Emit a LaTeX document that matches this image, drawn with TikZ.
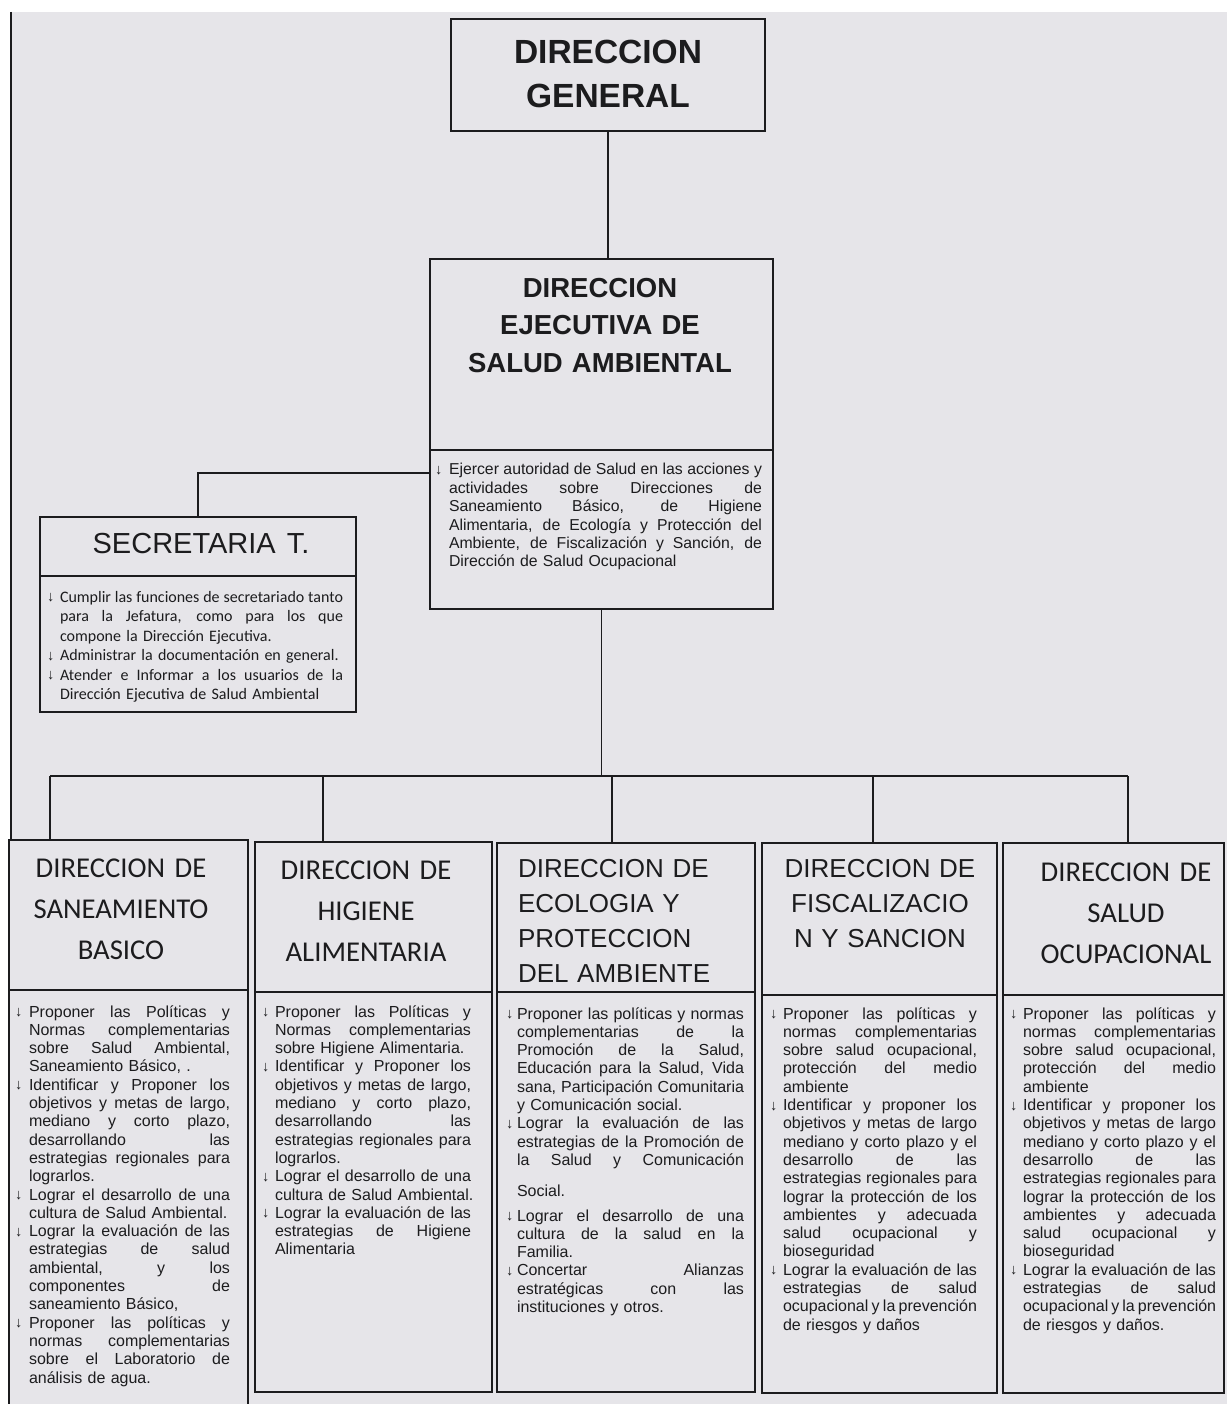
\documentclass[tikz,border=0pt]{standalone}
\usepackage{fontspec}
\setmainfont{Liberation Sans}
\newfontfamily\calf{Carlito}
\newfontfamily\arwf{Liberation Sans}
\definecolor{bg}{RGB}{230,229,233}
\definecolor{ink}{RGB}{28,28,30}
\newlength\bw
\newcommand\arw{\raisebox{0.5pt}{\arwf\fontsize{14.5}{14.5}\selectfont ↓}}
\newcommand\jsp{\spaceskip=.278em plus 1fil minus .09em\relax}
\newcommand\BJ[1]{\noindent\strut\makebox[\bw][l]{\arw}\makebox[\dimexpr\hsize-\bw\relax][s]{\jsp #1}\par}
\newcommand\BL[1]{\noindent\strut\makebox[\bw][l]{\arw}\makebox[\dimexpr\hsize-\bw\relax][l]{#1}\par}
\newcommand\CJ[1]{\noindent\strut\hspace*{\bw}\makebox[\dimexpr\hsize-\bw\relax][s]{\jsp #1}\par}
\newcommand\CL[1]{\noindent\strut\hspace*{\bw}\makebox[\dimexpr\hsize-\bw\relax][l]{#1}\par}
\newcommand\TC[1]{\noindent\strut\makebox[\hsize][c]{#1}\par}
\newcommand\TLl[1]{\noindent\strut\makebox[\hsize][l]{#1}\par}
\newcommand\bx[5]{\node[box, minimum width={(#4-#2)*1pt}, minimum height={(#5-#3)*1pt}] (#1) at ({(#2+#4)/2},{(#3+#5)/2}) {};}
\tikzset{
  box/.style={draw=ink, line width=2.2pt, fill=bg, rectangle, inner sep=0pt},
  conn/.style={draw=ink, line width=1.8pt},
  txt/.style={inner sep=0pt, outer sep=0pt, text=ink,
    execute at begin node={\setlength\parskip{0pt}\setlength\parindent{0pt}}},
  body/.style={txt, anchor=north west, font=\fontsize{16}{18.3}\selectfont},
  calt/.style={txt, font=\calf\fontsize{28.7}{41}\selectfont},
  arit/.style={txt, font=\fontsize{26}{35.2}\selectfont},
}
\begin{document}
\begin{tikzpicture}[x=1pt,y=-1pt]
\useasboundingbox (0,0) rectangle (1227,1404);
\fill[white] (0,0) rectangle (1227,1404);
\fill[bg] (11,12) rectangle (1227,1404);
\draw[ink, line width=1.2pt] (11,12) -- (11,1404);

% boxes
\bx{dg}{451}{19}{765}{131}
\bx{desa}{430}{259}{773}{609}
\bx{sec}{40}{517}{356}{712}
\bx{b1}{9}{840}{248}{1414}
\bx{b2}{255}{842}{492}{1392}
\bx{b3}{497}{843}{755}{1392}
\bx{b4}{762}{843}{997}{1393}
\bx{b5}{1003}{843}{1224}{1393}

% dividers
\draw[conn, line width=2.2pt] (430,450) -- (773,450);
\draw[conn, line width=2.2pt] (40,576) -- (356,576);
\draw[conn, line width=2.2pt] (9,990) -- (248,990);
\draw[conn, line width=2.2pt] (255,992) -- (492,992);
\draw[conn, line width=2.2pt] (497,992) -- (755,992);
\draw[conn, line width=2.2pt] (762,995) -- (997,995);
\draw[conn, line width=2.2pt] (1003,995) -- (1224,995);

% connectors
\coordinate (secj) at (430,473);
\coordinate (busL) at (50,776);
\coordinate (busR) at (1128,776);
\coordinate (d2) at (323,776);
\coordinate (d3) at (612,776);
\coordinate (d4) at (873,776);
\draw[conn] (dg.south) -- (dg.south |- desa.north);
\draw[conn] (secj) -| (sec.north);
\draw[conn] (desa.south) -- (desa.south |- busL);
\draw[conn] (busL) -- (busR);
\draw[conn] (busL) -- (busL |- b1.north);
\draw[conn] (d2) -- (d2 |- b2.north);
\draw[conn] (d3) -- (d3 |- b3.north);
\draw[conn] (d4) -- (d4 |- b4.north);
\draw[conn] (busR) -- (busR |- b5.north);

% titles
\node[txt, anchor=north, text width=300pt, font=\bfseries\fontsize{33.5}{44}\selectfont] (dgt) at (608,33.2) {\TC{DIRECCION}\TC{GENERAL}};
\node[txt, anchor=north, text width=330pt, font=\bfseries\fontsize{27.5}{37}\selectfont] (desat) at (600,272.1) {\TC{DIRECCION}\TC{EJECUTIVA DE}\TC{SALUD AMBIENTAL}};
\node[txt, anchor=north, text width=300pt, font=\fontsize{29}{35}\selectfont] (sect) at (201,528.5) {\TC{SECRETARIA\hspace{11pt}T.}};
\node[calt, anchor=north, text width=230pt] (b1t) at (121,848.3) {\TC{DIRECCION DE}\TC{SANEAMIENTO}\TC{BASICO}};
\node[calt, anchor=north, text width=230pt] (b2t) at (366,850.3) {\TC{DIRECCION DE}\TC{HIGIENE}\TC{ALIMENTARIA}};
\node[arit, anchor=north west, text width=235pt] (b3t) at (518,852.4) {\TLl{DIRECCION DE}\TLl{ECOLOGIA Y}\TLl{PROTECCION}\TLl{DEL AMBIENTE}};
\node[arit, anchor=north, text width=230pt] (b4t) at (880,852.4) {\TC{DIRECCION DE}\TC{FISCALIZACIO}\TC{N Y SANCION}};
\node[calt, anchor=north, text width=215pt] (b5t) at (1126,852.3) {\TC{DIRECCION DE}\TC{SALUD}\TC{OCUPACIONAL}};

% bodies
\node[txt, anchor=north west, text width=327pt, font=\fontsize{15.8}{18.4}\selectfont] (desab) at (435,462.1) {\setlength\bw{14pt}%
\BJ{Ejercer autoridad de Salud en las acciones y}
\CJ{actividades sobre Direcciones de}
\CJ{Saneamiento Básico, de Higiene}
\CJ{Alimentaria, de Ecología y Protección del}
\CJ{Ambiente, de Fiscalización y Sanción, de}
\CL{Dirección de Salud Ocupacional}};

\node[txt, anchor=north west, text width=296pt, font=\calf\fontsize{16}{19.5}\selectfont] (secb) at (47,588.35) {\setlength\bw{13pt}%
\BJ{Cumplir las funciones de secretariado tanto}
\CJ{para la Jefatura, como para los que}
\CL{compone la Dirección Ejecutiva.}
\BL{Administrar la documentación en general.}
\BJ{Atender e Informar a los usuarios de la}
\CL{Dirección Ejecutiva de Salud Ambiental}};

\node[body, text width=215pt] (b1b) at (15,1004.2) {\setlength\bw{14pt}%
\BJ{Proponer las Políticas y}
\CJ{Normas complementarias}
\CJ{sobre Salud Ambiental,}
\CL{Saneamiento Básico, .}
\BJ{Identificar y Proponer los}
\CJ{objetivos y metas de largo,}
\CJ{mediano y corto plazo,}
\CJ{desarrollando las}
\CJ{estrategias regionales para}
\CL{lograrlos.}
\BJ{Lograr el desarrollo de una}
\CL{cultura de Salud Ambiental.}
\BJ{Lograr la evaluación de las}
\CJ{estrategias de salud}
\CJ{ambiental, y los}
\CJ{componentes de}
\CL{saneamiento Básico,}
\BJ{Proponer las políticas y}
\CJ{normas complementarias}
\CJ{sobre el Laboratorio de}
\CL{análisis de agua.}};

\node[body, text width=209pt] (b2b) at (262,1004.2) {\setlength\bw{13pt}%
\BJ{Proponer las Políticas y}
\CJ{Normas complementarias}
\CL{sobre Higiene Alimentaria.}
\BJ{Identificar y Proponer los}
\CJ{objetivos y metas de largo,}
\CJ{mediano y corto plazo,}
\CJ{desarrollando las}
\CJ{estrategias regionales para}
\CL{lograrlos.}
\BJ{Lograr el desarrollo de una}
\CL{cultura de Salud Ambiental.}
\BJ{Lograr la evaluación de las}
\CJ{estrategias de Higiene}
\CL{Alimentaria}};

\node[body, text width=238pt] (b3b) at (506,1006.2) {\setlength\bw{11pt}%
\BJ{Proponer las políticas y normas}
\CJ{complementarias de la}
\CJ{Promoción de la Salud,}
\CJ{Educación para la Salud, Vida}
\CJ{sana, Participación Comunitaria}
\CL{y Comunicación social.}
\BJ{Lograr la evaluación de las}
\CJ{estrategias de la Promoción de}
\CJ{la Salud y Comunicación}
\vspace{13pt}
\CL{Social.}
\vspace{6pt}
\BJ{Lograr el desarrollo de una}
\CJ{cultura de la salud en la}
\CL{Familia.}
\BJ{Concertar Alianzas}
\CJ{estratégicas con las}
\CL{instituciones y otros.}};

\node[body, text width=207pt] (b4b) at (770,1006.2) {\setlength\bw{13pt}%
\BJ{Proponer las políticas y}
\CJ{normas complementarias}
\CJ{sobre salud ocupacional,}
\CJ{protección del medio}
\CL{ambiente}
\BJ{Identificar y proponer los}
\CJ{objetivos y metas de largo}
\CJ{mediano y corto plazo y el}
\CJ{desarrollo de las}
\CJ{estrategias regionales para}
\CJ{lograr la protección de los}
\CJ{ambientes y adecuada}
\CJ{salud ocupacional y}
\CL{bioseguridad}
\BJ{Lograr la evaluación de las}
\CJ{estrategias de salud}
\CJ{ocupacional y la prevención}
\CL{de riesgos y daños}};

\node[body, text width=206pt] (b5b) at (1010,1006.2) {\setlength\bw{13pt}%
\BJ{Proponer las políticas y}
\CJ{normas complementarias}
\CJ{sobre salud ocupacional,}
\CJ{protección del medio}
\CL{ambiente}
\BJ{Identificar y proponer los}
\CJ{objetivos y metas de largo}
\CJ{mediano y corto plazo y el}
\CJ{desarrollo de las}
\CJ{estrategias regionales para}
\CJ{lograr la protección de los}
\CJ{ambientes y adecuada}
\CJ{salud ocupacional y}
\CL{bioseguridad}
\BJ{Lograr la evaluación de las}
\CJ{estrategias de salud}
\CJ{ocupacional y la prevención}
\CL{de riesgos y daños.}};
\end{tikzpicture}
\end{document}
